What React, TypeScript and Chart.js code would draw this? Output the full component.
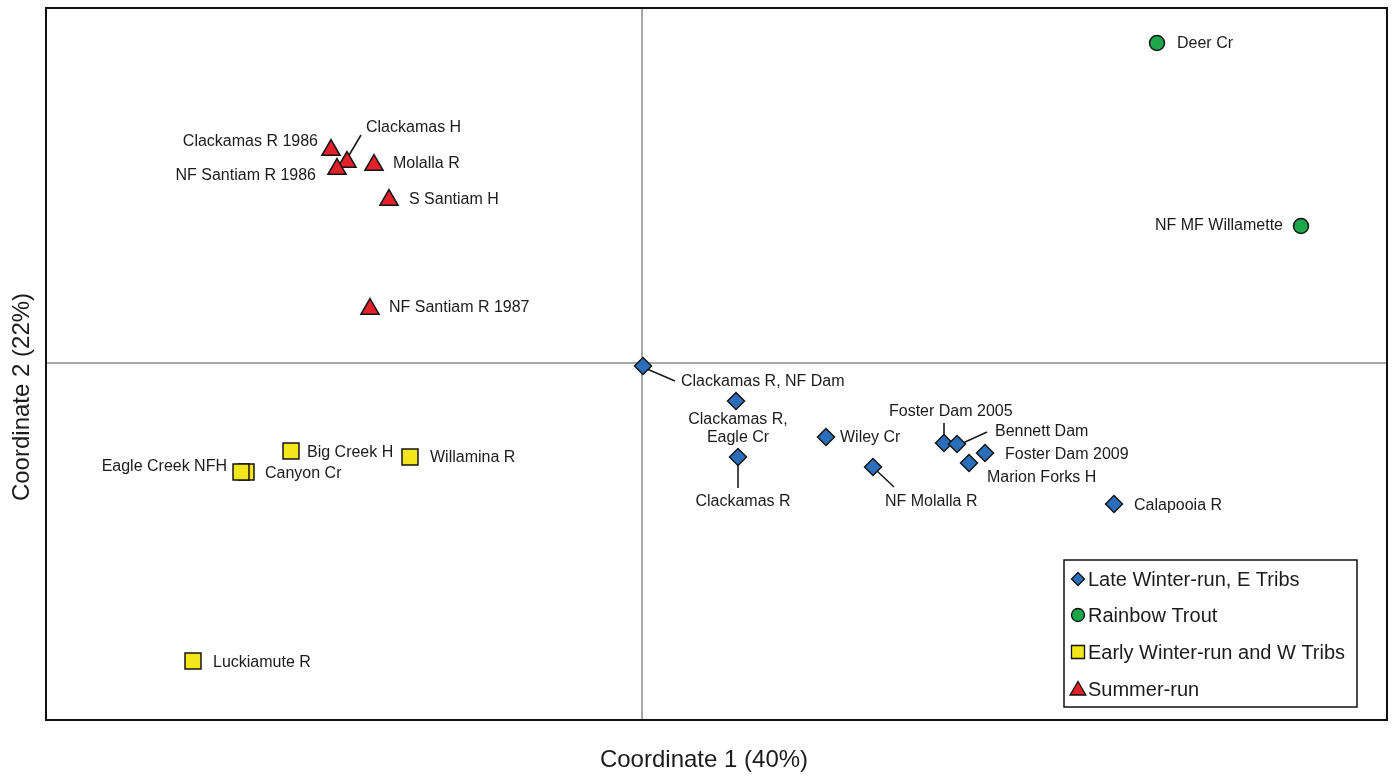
import React, { useEffect, useRef } from "react";
import { Chart, registerables } from "chart.js";

Chart.register(...registerables);

// ---------- data ----------
const lateWinterNames = [
  "Clackamas R, NF Dam",
  "Clackamas R,\nEagle Cr",
  "Clackamas R",
  "Wiley Cr",
  "NF Molalla R",
  "Foster Dam 2005",
  "Bennett Dam",
  "Foster Dam 2009",
  "Marion Forks H",
  "Calapooia R",
];
const lateWinterX = [0.01, 0.94, 0.96, 1.84, 2.31, 3.02, 3.15, 3.43, 3.27, 4.72];
const lateWinterY = [-0.03, -0.38, -0.94, -0.74, -1.04, -0.8, -0.81, -0.9, -1.0, -1.41];

const rainbowNames = ["Deer Cr", "NF MF Willamette"];
const rainbowX = [5.15, 6.59];
const rainbowY = [3.2, 1.37];

const earlyWinterNames = ["Big Creek H", "Willamina R", "Canyon Cr", "Eagle Creek NFH", "Luckiamute R"];
const earlyWinterX = [-3.51, -2.32, -3.96, -4.01, -4.49];
const earlyWinterY = [-0.88, -0.94, -1.09, -1.09, -2.98];

const summerNames = [
  "Clackamas R 1986",
  "Clackamas H",
  "NF Santiam R 1986",
  "Molalla R",
  "S Santiam H",
  "NF Santiam R 1987",
];
const summerX = [-3.11, -2.95, -3.05, -2.68, -2.53, -2.72];
const summerY = [2.13, 2.01, 1.94, 1.98, 1.63, 0.54];

const seriesLabels = [
  "Late Winter-run, E Tribs",
  "Rainbow Trout",
  "Early Winter-run and W Tribs",
  "Summer-run",
];
const xAxisTitle = "Coordinate 1 (40%)";
const yAxisTitle = "Coordinate 2 (22%)";
const xRange = [-5.96, 7.45];
const yRange = [-3.57, 3.55];

// ---------- label placement (style) ----------
type Placement = {
  dx: number;
  dy: number;
  align: CanvasTextAlign;
  line?: [number, number, number, number];
};
const labelPlacements: Record<string, Placement> = {
  "Clackamas R 1986": { dx: -13, dy: -8, align: "right" },
  "Clackamas H": { dx: 19, dy: -34, align: "left", line: [1, -5, 14, -27] },
  "NF Santiam R 1986": { dx: -21, dy: 7, align: "right" },
  "Molalla R": { dx: 19, dy: -1, align: "left" },
  "S Santiam H": { dx: 20, dy: 0, align: "left" },
  "NF Santiam R 1987": { dx: 19, dy: -1, align: "left" },
  "Big Creek H": { dx: 16, dy: 2, align: "left" },
  "Willamina R": { dx: 20, dy: 1, align: "left" },
  "Canyon Cr": { dx: 19, dy: 2, align: "left" },
  "Eagle Creek NFH": { dx: -14, dy: -5, align: "right" },
  "Luckiamute R": { dx: 20, dy: 2, align: "left" },
  "Deer Cr": { dx: 20, dy: 1, align: "left" },
  "NF MF Willamette": { dx: -18, dy: 0, align: "right" },
  "Clackamas R, NF Dam": { dx: 38, dy: 16, align: "left", line: [4, 3, 32, 15] },
  "Clackamas R,\nEagle Cr": { dx: 2, dy: 19, align: "center" },
  "Clackamas R": { dx: 5, dy: 45, align: "center", line: [0, 5, 0, 31] },
  "Wiley Cr": { dx: 14, dy: 1, align: "left" },
  "NF Molalla R": { dx: 12, dy: 35, align: "left", line: [4, 4, 21, 20] },
  "Foster Dam 2005": { dx: -55, dy: -31, align: "left", line: [0, -5, 0, -20] },
  "Bennett Dam": { dx: 38, dy: -12, align: "left", line: [6, -1, 30, -12] },
  "Foster Dam 2009": { dx: 20, dy: 2, align: "left" },
  "Marion Forks H": { dx: 18, dy: 15, align: "left" },
  "Calapooia R": { dx: 20, dy: 2, align: "left" },
};

const FONT = "'Liberation Sans', Arial, Helvetica, sans-serif";
const TEXT_COLOR = "#1b1b1b";

function toPoints(names: string[], xs: number[], ys: number[]) {
  return names.map((n, i) => ({ x: xs[i], y: ys[i], name: n }));
}

function drawMarker(ctx: CanvasRenderingContext2D, style: string, x: number, y: number, s: number) {
  ctx.beginPath();
  if (style === "rectRot") {
    ctx.moveTo(x - s, y);
    ctx.lineTo(x, y - s);
    ctx.lineTo(x + s, y);
    ctx.lineTo(x, y + s);
    ctx.closePath();
  } else if (style === "circle") {
    ctx.arc(x, y, s, 0, Math.PI * 2);
  } else if (style === "rect") {
    ctx.rect(x - s, y - s, 2 * s, 2 * s);
  } else {
    ctx.moveTo(x, y - s);
    ctx.lineTo(x + s * 1.05, y + s * 0.8);
    ctx.lineTo(x - s * 1.05, y + s * 0.8);
    ctx.closePath();
  }
  ctx.fill();
  ctx.stroke();
}

const decorPlugin = {
  id: "decor",
  beforeDatasetsDraw(chart: any) {
    const { ctx, chartArea: a, scales } = chart;
    const x0 = scales.x.getPixelForValue(0);
    const y0 = scales.y.getPixelForValue(0);
    ctx.save();
    ctx.strokeStyle = "#8c8c8c";
    ctx.lineWidth = 1.5;
    ctx.beginPath();
    ctx.moveTo(x0, a.top);
    ctx.lineTo(x0, a.bottom);
    ctx.moveTo(a.left, y0);
    ctx.lineTo(a.right, y0);
    ctx.stroke();

    // leader lines
    ctx.strokeStyle = "#1b1b1b";
    ctx.lineWidth = 1.6;
    chart.data.datasets.forEach((ds: any, di: number) => {
      const meta = chart.getDatasetMeta(di);
      ds.data.forEach((p: any, i: number) => {
        const pl = labelPlacements[p.name];
        const el = meta.data[i];
        if (!pl || !pl.line || !el) return;
        ctx.beginPath();
        ctx.moveTo(el.x + pl.line[0], el.y + pl.line[1]);
        ctx.lineTo(el.x + pl.line[2], el.y + pl.line[3]);
        ctx.stroke();
      });
    });
    ctx.restore();
  },
  afterDatasetsDraw(chart: any) {
    const { ctx, chartArea: a } = chart;
    ctx.save();
    // point labels
    ctx.fillStyle = TEXT_COLOR;
    ctx.font = `16px ${FONT}`;
    ctx.textBaseline = "middle";
    chart.data.datasets.forEach((ds: any, di: number) => {
      const meta = chart.getDatasetMeta(di);
      ds.data.forEach((p: any, i: number) => {
        const pl = labelPlacements[p.name];
        const el = meta.data[i];
        if (!pl || !el) return;
        ctx.textAlign = pl.align;
        const lines = String(p.name).split("\n");
        lines.forEach((ln: string, li: number) => {
          ctx.fillText(ln, el.x + pl.dx, el.y + pl.dy + li * 18);
        });
      });
    });

    // plot border
    ctx.strokeStyle = "#111";
    ctx.lineWidth = 2;
    ctx.strokeRect(a.left, a.top, a.right - a.left, a.bottom - a.top);

    // legend box
    const lx = 1064, ly = 560, lw = 293, lh = 147;
    ctx.fillStyle = "#fff";
    ctx.fillRect(lx, ly, lw, lh);
    ctx.lineWidth = 1.5;
    ctx.strokeRect(lx, ly, lw, lh);
    const rowYs = [579, 615, 652, 689];
    ctx.font = `20px ${FONT}`;
    ctx.textAlign = "left";
    chart.data.datasets.forEach((ds: any, di: number) => {
      const y = rowYs[di];
      ctx.fillStyle = ds.backgroundColor;
      ctx.strokeStyle = "#111";
      ctx.lineWidth = 1.3;
      const sizes: Record<string, number> = { rectRot: 6.5, circle: 6.5, rect: 6.5, triangle: 7.5 };
      drawMarker(ctx, ds.pointStyle, 1078, y, sizes[ds.pointStyle] || 6.5);
      ctx.fillStyle = TEXT_COLOR;
      ctx.fillText(ds.label, 1088, y + 1);
    });

    // axis titles
    ctx.fillStyle = TEXT_COLOR;
    ctx.font = `24px ${FONT}`;
    ctx.textAlign = "center";
    ctx.fillText(xAxisTitle, 704, 760);
    ctx.translate(22, 397);
    ctx.rotate(-Math.PI / 2);
    ctx.fillText(yAxisTitle, 0, 0);
    ctx.restore();
  },
};

export default function App() {
  const ref = useRef<HTMLCanvasElement | null>(null);
  useEffect(() => {
    document.body.style.margin = "0";
    const canvas = ref.current;
    if (!canvas) return;
    const common = { borderColor: "#151515", borderWidth: 1.5, pointHoverRadius: 8 };
    const chart = new Chart(canvas, {
      type: "scatter",
      data: {
        datasets: [
          {
            label: seriesLabels[0],
            data: toPoints(lateWinterNames, lateWinterX, lateWinterY),
            backgroundColor: "#2b6fbc",
            pointStyle: "rectRot",
            pointRadius: 8.5,
            ...common,
          },
          {
            label: seriesLabels[1],
            data: toPoints(rainbowNames, rainbowX, rainbowY),
            backgroundColor: "#1da64b",
            pointStyle: "circle",
            pointRadius: 7.5,
            ...common,
          },
          {
            label: seriesLabels[2],
            data: toPoints(earlyWinterNames, earlyWinterX, earlyWinterY),
            backgroundColor: "#f4e61c",
            pointStyle: "rect",
            pointRadius: 11.3,
            ...common,
          },
          {
            label: seriesLabels[3],
            data: toPoints(summerNames, summerX, summerY),
            backgroundColor: "#e2212a",
            pointStyle: "triangle",
            pointRadius: 10.5,
            ...common,
          },
        ] as any,
      },
      options: {
        animation: false,
        responsive: false,
        devicePixelRatio: 1,
        layout: { autoPadding: false, padding: { left: 46, top: 8, right: 7, bottom: 56 } },
        plugins: { legend: { display: false }, tooltip: { enabled: false } },
        scales: {
          x: { type: "linear", display: false, min: xRange[0], max: xRange[1] },
          y: { type: "linear", display: false, min: yRange[0], max: yRange[1] },
        },
      },
      plugins: [decorPlugin],
    });
    return () => chart.destroy();
  }, []);
  return (
    <div style={{ width: 1394, height: 776, background: "#fff" }}>
      <canvas ref={ref} width={1394} height={776} style={{ display: "block" }} />
    </div>
  );
}
